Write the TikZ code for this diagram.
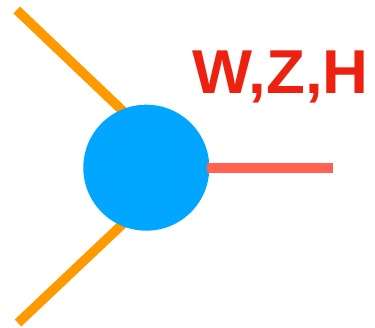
\documentclass[tikz,border=0pt]{standalone}
\usepackage{fontspec}
\setmainfont{Liberation Sans}
\definecolor{blobblue}{RGB}{0,166,255}
\definecolor{legorange}{RGB}{255,153,0}
\definecolor{legred}{RGB}{255,98,80}
\definecolor{txtred}{RGB}{237,33,16}
\begin{document}
\begin{tikzpicture}[x=1pt,y=-1pt,
  leg/.style={line width=9.5pt,line cap=butt,draw=legorange},
  boson/.style={line width=10pt,line cap=butt,draw=legred},
  blob/.style={circle,fill=blobblue,minimum size=126pt,inner sep=0pt},
  label/.style={anchor=base west,inner sep=0pt,text=txtred,xscale=1.025,
    font=\fontsize{62}{62}\selectfont\bfseries}]
\useasboundingbox (0,0) rectangle (375,328);
\coordinate (a) at (16.7,10);
\coordinate (ja) at (146,133);
\coordinate (b) at (18,323);
\coordinate (jb) at (146,202);
\coordinate (r) at (333.3,167.7);
\draw[leg] (a) -- (ja);
\draw[leg] (b) -- (jb);
\node[blob] (c) at (146.3,167.7) {};
\draw[boson] (c.east) ++(-3,0) coordinate (ce) (ce) -- (r);
\node[label] (t) at (192,93.3) {W,Z,H};
\end{tikzpicture}
\end{document}
